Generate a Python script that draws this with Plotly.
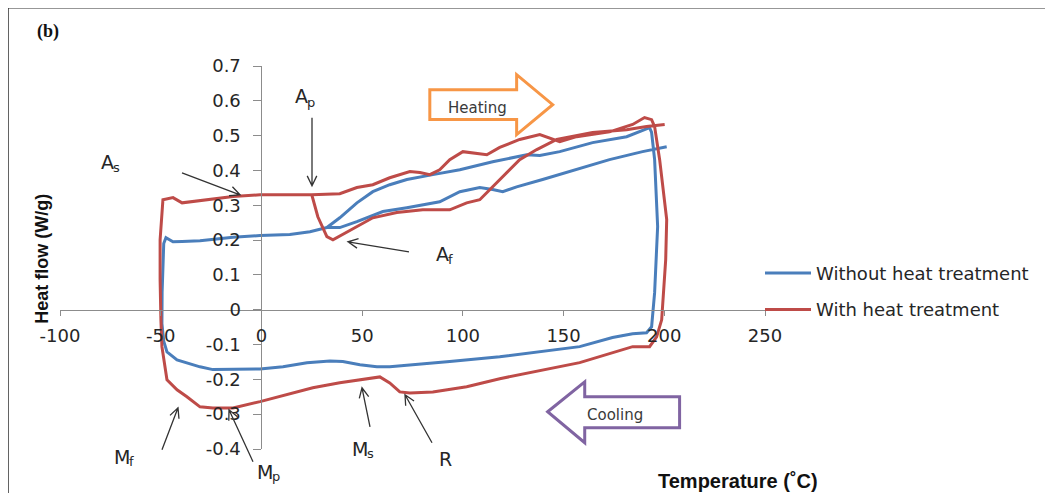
import math
import plotly.graph_objects as go

# ---------------- data ----------------
blue_T = [201.2, 189.2, 172.8, 156.5, 139.6, 126.7, 119.8, 114.8, 108.4, 98.5, 88.5, 72.2, 60.3, 47.4, 38.9, 32.5,
          24.1, 14.1, -0.7, -14.1, -30.5, -39.4, -43.9, -47.4, -48.5, -49.3, -49.4, -48.5, -46.9, -41.9, -37.0,
          -30.5, -24.1, -14.1, -0.7, 10.7, 22.6, 34.0, 40.4, 48.9, 57.3, 63.7, 77.1, 93.5, 118.3, 158.0, 174.3,
          184.3, 191.2, 193.7, 195.2, 196.7, 195.2, 193.7, 192.7, 187.8, 181.3, 164.4, 148.1, 138.2, 131.7, 114.8,
          98.5, 85.1, 72.2, 63.7, 55.3, 47.4, 38.9, 32.5]
blue_H = [0.468, 0.454, 0.431, 0.402, 0.374, 0.353, 0.339, 0.345, 0.351, 0.339, 0.310, 0.293, 0.282, 0.253, 0.236, 0.236,
          0.224, 0.216, 0.213, 0.208, 0.198, 0.196, 0.195, 0.207, 0.190, 0.050, -0.040, -0.090, -0.121, -0.144, -0.152,
          -0.164, -0.172, -0.172, -0.170, -0.164, -0.152, -0.147, -0.149, -0.158, -0.164, -0.164, -0.158, -0.149, -0.135, -0.106, -0.080,
          -0.069, -0.066, -0.049, 0.049, 0.239, 0.431, 0.509, 0.523, 0.511, 0.497, 0.480, 0.454, 0.443, 0.445, 0.425,
          0.402, 0.388, 0.374, 0.359, 0.339, 0.307, 0.264, 0.236]

red_T = [200.2, 191.2, 181.3, 164.4, 146.6, 136.7, 128.2, 118.3, 108.4, 101.9, 93.5, 80.1, 67.2, 55.3, 47.4, 38.9,
         35.5, 32.5, 28.0, 25.0, 14.1, -0.7, -14.1, -30.5, -39.4, -43.9, -48.9, -50.3, -50.3, -49.9, -49.4, -46.9,
         -41.9, -37.0, -30.5, -24.1, -14.1, -0.7, 12.6, 25.5, 38.9, 50.3, 58.8, 63.7, 68.7, 73.7, 85.1, 101.9,
         118.3, 158.0, 184.3, 192.7, 196.2, 198.7, 200.7, 201.2, 197.7, 195.2, 193.7, 190.2, 184.3, 172.8, 156.5,
         148.1, 143.1, 138.2, 128.2, 118.3, 111.9, 104.9, 100.0, 93.5, 88.5, 83.6, 78.7, 73.7, 63.7, 55.3, 47.4,
         38.9, 25.0]
red_H = [0.532, 0.526, 0.517, 0.509, 0.489, 0.460, 0.431, 0.374, 0.316, 0.307, 0.287, 0.287, 0.279, 0.264, 0.239, 0.210,
         0.201, 0.210, 0.267, 0.330, 0.330, 0.330, 0.325, 0.313, 0.307, 0.322, 0.316, 0.201, 0.086, -0.030, -0.106, -0.201,
         -0.230, -0.250, -0.279, -0.282, -0.282, -0.264, -0.244, -0.224, -0.210, -0.201, -0.193, -0.210, -0.236, -0.239, -0.236, -0.221,
         -0.198, -0.152, -0.106, -0.106, -0.078, -0.029, 0.144, 0.259, 0.431, 0.526, 0.546, 0.552, 0.532, 0.511, 0.497,
         0.483, 0.494, 0.503, 0.489, 0.466, 0.445, 0.451, 0.454, 0.431, 0.402, 0.388, 0.394, 0.397, 0.379, 0.359, 0.351,
         0.333, 0.330]

series_names = ["Without heat treatment", "With heat treatment"]
x_ticks = [-100, -50, 0, 50, 100, 150, 200, 250]
x_tick_labels = ["-100", "-50", "0", "50", "100", "150", "200", "250"]
y_ticks = [0.7, 0.6, 0.5, 0.4, 0.3, 0.2, 0.1, 0, -0.1, -0.2, -0.3, -0.4]
y_tick_labels = ["0.7", "0.6", "0.5", "0.4", "0.3", "0.2", "0.1", "0", "-0.1", "-0.2", "-0.3", "-0.4"]

BLUE = "#4A7EBB"
RED = "#BE4B48"
TXT = "#262626"

# layout geometry (window pixels; the page body has an 8px margin)
PLOT_L, PLOT_T, PLOT_W, PLOT_H = 60, 66.2, 705, 383


def paper(px, py):
    return (px - PLOT_L) / PLOT_W, (PLOT_T + PLOT_H - py) / PLOT_H


fig = go.Figure()
fig.add_trace(go.Scatter(x=blue_T, y=blue_H, mode="lines", name=series_names[0],
                         line=dict(color=BLUE, width=3), legendgroup="a"))
fig.add_trace(go.Scatter(x=red_T, y=red_H, mode="lines", name=series_names[1],
                         line=dict(color=RED, width=3), legendgroup="b"))

axis_common = dict(showgrid=False, zeroline=False, showline=True, linecolor="#8C8C8C", linewidth=1,
                   ticks="outside", tickcolor="#8C8C8C",
                   tickfont=dict(family="DejaVu Sans", size=18, color=TXT))

fig.update_layout(
    width=1045, height=485,
    margin=dict(l=52, r=288, t=58, b=44),
    paper_bgcolor="white", plot_bgcolor="white",
    xaxis=dict(range=[-100, 250], tickvals=x_ticks, ticktext=x_tick_labels, anchor="free",
               position=0.4 / 1.1, ticklen=5, ticklabelstandoff=5, **axis_common),
    yaxis=dict(range=[-0.4, 0.7], tickvals=y_ticks, ticktext=y_tick_labels, anchor="free",
               position=100 / 350, ticklen=8, ticklabelstandoff=9, **axis_common),
    showlegend=True,
    legend=dict(x=paper(760, 0)[0], y=paper(0, 255)[1], xanchor="left", yanchor="top",
                bgcolor="rgba(0,0,0,0)", font=dict(family="DejaVu Sans", size=18, color=TXT),
                itemwidth=46, tracegroupgap=10),
)

# Block arrows "Heating" / "Cooling"
fig.add_shape(type="path", xref="x", yref="y",
              path="M 83.6,0.632 L 126.7,0.632 L 126.7,0.675 L 144.6,0.589 L 126.7,0.503 L 126.7,0.546 L 83.6,0.546 Z",
              line=dict(color="#F79646", width=3), fillcolor="white", layer="above")
fig.add_shape(type="path", xref="x", yref="y",
              path="M 142.1,-0.293 L 160.5,-0.207 L 160.5,-0.250 L 207.6,-0.250 L 207.6,-0.339 L 160.5,-0.339 L 160.5,-0.382 Z",
              line=dict(color="#8064A2", width=3), fillcolor="white", layer="above")
fig.add_annotation(x=107.4, y=0.580, text="Heating", showarrow=False,
                   font=dict(family="DejaVu Sans", size=15, color="#3A3A3A"))
fig.add_annotation(x=175.3, y=-0.302, text="Cooling", showarrow=False,
                   font=dict(family="DejaVu Sans", size=15, color="#3A3A3A"))

# Outer frame
fx0, fy1 = paper(8, 8)
fx1, fy0 = paper(1048, 505)
fig.add_shape(type="rect", xref="paper", yref="paper", x0=fx0, x1=fx1, y0=fy0, y1=fy1,
              line=dict(color="#303030", width=1.5), fillcolor="rgba(0,0,0,0)")

# Thin pointer arrows: (tail, head) in window pixels, drawn as open-V arrows
pointer_arrows = [((182, 173), (240, 195)), ((312, 118), (312, 186)), ((409, 252), (348, 242)),
                  ((162, 450), (178, 408)), ((253, 462), (229, 410)), ((370, 427), (362, 388)),
                  ((432, 443), (405, 395))]
for (tx, ty), (hx, hy) in pointer_arrows:
    L = math.hypot(tx - hx, ty - hy)
    ux, uy = (tx - hx) / L, (ty - hy) / L
    barbs = []
    for ang in (0.45, -0.45):
        c, s = math.cos(ang), math.sin(ang)
        barbs.append((hx + 11 * (ux * c - uy * s), hy + 11 * (ux * s + uy * c)))
    p_t, p_h = paper(tx, ty), paper(hx, hy)
    p_b1, p_b2 = paper(*barbs[0]), paper(*barbs[1])
    path = (f"M {p_t[0]:.5f},{p_t[1]:.5f} L {p_h[0]:.5f},{p_h[1]:.5f} "
            f"M {p_b1[0]:.5f},{p_b1[1]:.5f} L {p_h[0]:.5f},{p_h[1]:.5f} L {p_b2[0]:.5f},{p_b2[1]:.5f}")
    fig.add_shape(type="path", xref="paper", yref="paper", path=path,
                  line=dict(color="#333333", width=1.3))

# Transformation labels: base letter, subscript, split x, base centre y, subscript centre y (window px)
labels = [("A", "s", 114, 162, 168), ("A", "p", 308, 96, 103), ("A", "f", 449, 254, 260),
          ("M", "f", 130, 457, 462), ("M", "p", 273, 472, 477), ("M", "s", 368, 449, 454),
          ("R", "", 452, 459, 459)]
for base, sub, sx, by, sy in labels:
    bx_p, by_p = paper(sx + 2, by)
    fig.add_annotation(xref="paper", yref="paper", x=bx_p, y=by_p, text=base, showarrow=False,
                       xanchor="right", yanchor="middle",
                       font=dict(family="DejaVu Sans", size=19, color=TXT))
    if sub:
        sx_p, sy_p = paper(sx - 3, sy)
        fig.add_annotation(xref="paper", yref="paper", x=sx_p, y=sy_p, text=sub, showarrow=False,
                           xanchor="left", yanchor="middle",
                           font=dict(family="DejaVu Sans", size=13, color=TXT))

# Titles
tx_, ty_ = paper(738, 481)
fig.add_annotation(xref="paper", yref="paper", x=tx_, y=ty_, xanchor="center", yanchor="middle",
                   text="<b>Temperature (˚C)</b>", showarrow=False,
                   font=dict(family="Liberation Sans", size=20, color="#111111"))
tx_, ty_ = paper(42, 259)
fig.add_annotation(xref="paper", yref="paper", x=tx_, y=ty_, xanchor="center", yanchor="middle",
                   text="<b>Heat flow (W/g)</b>", showarrow=False, textangle=-90,
                   font=dict(family="Liberation Sans", size=18, color="#111111"))
tx_, ty_ = paper(48, 32)
fig.add_annotation(xref="paper", yref="paper", x=tx_, y=ty_, xanchor="center", yanchor="middle",
                   text="<b>(b)</b>", showarrow=False,
                   font=dict(family="Liberation Serif", size=18, color="#111111"))

fig.write_html("out.html")
